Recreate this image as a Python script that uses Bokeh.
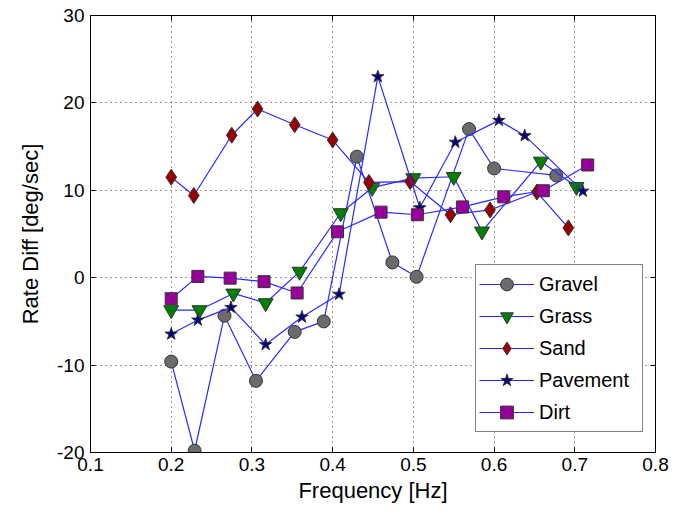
from bokeh.plotting import figure
from bokeh.models import Range1d, Legend, LegendItem, LinearAxis, FixedTicker, CustomJSTickFormatter
from bokeh.embed import file_html
from bokeh.resources import INLINE

gravel_x = [0.200, 0.229, 0.266, 0.305, 0.353, 0.389, 0.430, 0.474, 0.504, 0.569, 0.600, 0.677]
gravel_y = [-9.6, -19.8, -4.35, -11.8, -6.2, -5.0, 13.85, 1.75, 0.1, 17.0, 12.5, 11.7]

grass_x = [0.200, 0.235, 0.277, 0.317, 0.359, 0.410, 0.449, 0.500, 0.550, 0.585, 0.658, 0.702]
grass_y = [-3.7, -3.7, -1.8, -2.9, 0.7, 7.4, 10.3, 11.4, 11.55, 5.3, 13.3, 10.4]

sand_x = [0.200, 0.228, 0.275, 0.307, 0.353, 0.400, 0.445, 0.496, 0.546, 0.595, 0.653, 0.692]
sand_y = [11.5, 9.4, 16.3, 19.3, 17.5, 15.75, 10.9, 11.0, 7.2, 7.75, 9.8, 5.7]

pave_x = [0.200, 0.233, 0.274, 0.317, 0.362, 0.408, 0.456, 0.508, 0.552, 0.606, 0.638, 0.710]
pave_y = [-6.45, -4.85, -3.4, -7.65, -4.5, -1.9, 23.0, 8.0, 15.5, 18.0, 16.25, 9.9]

dirt_x = [0.200, 0.233, 0.273, 0.315, 0.356, 0.406, 0.460, 0.505, 0.561, 0.612, 0.661, 0.716]
dirt_y = [-2.4, 0.15, -0.05, -0.45, -1.75, 5.25, 7.5, 7.2, 8.1, 9.25, 9.95, 12.9]

x_ticks = [0.1, 0.2, 0.3, 0.4, 0.5, 0.6, 0.7, 0.8]
y_ticks = [-20, -10, 0, 10, 20, 30]
y_tick_labels = ["-20", "-10", "0", "10", "20", "30"]

FONT = "Liberation Sans"

p = figure(width=679, height=510, output_backend="svg", toolbar_location=None,
           x_range=Range1d(0.1, 0.8), y_range=Range1d(-20, 30),
           min_border_left=90, min_border_right=24, min_border_top=15, min_border_bottom=58,
           x_axis_label="Frequency [Hz]", y_axis_label="Rate Diff [deg/sec]")
p.background_fill_color = "white"
p.border_fill_color = "white"
p.outline_line_color = "black"
p.outline_line_width = 1

for ax, ticks in ((p.xaxis[0], x_ticks), (p.yaxis[0], y_ticks)):
    ax.ticker = FixedTicker(ticks=ticks)
    ax.major_tick_in = 5
    ax.major_tick_out = 0
    ax.minor_tick_line_color = None
    ax.axis_line_color = "black"
    ax.major_tick_line_color = "black"
    ax.major_label_text_font = FONT
    ax.major_label_text_font_size = "19px"
    ax.major_label_text_color = "black"
    ax.axis_label_text_font = FONT
    ax.axis_label_text_font_size = "22px"
    ax.axis_label_text_font_style = "normal"
    ax.axis_label_text_color = "black"
p.yaxis[0].major_label_overrides = {t: s for t, s in zip(y_ticks, y_tick_labels)}
p.xaxis.major_label_standoff = 5
p.yaxis.major_label_standoff = 6
p.xaxis.axis_label_standoff = 4
p.yaxis.axis_label_standoff = 11

blank = CustomJSTickFormatter(code="return '';")
top = LinearAxis(ticker=FixedTicker(ticks=x_ticks), formatter=blank,
                 major_tick_in=5, major_tick_out=0, minor_tick_line_color=None)
right = LinearAxis(ticker=FixedTicker(ticks=y_ticks), formatter=blank,
                   major_tick_in=5, major_tick_out=0, minor_tick_line_color=None)
p.add_layout(top, "above")
p.add_layout(right, "right")

p.xgrid.ticker = FixedTicker(ticks=x_ticks)
p.ygrid.ticker = FixedTicker(ticks=y_ticks)
for g in (p.xgrid[0], p.ygrid[0]):
    g.grid_line_color = "black"
    g.grid_line_dash = "1 4"
    g.grid_line_width = 1
    g.grid_line_alpha = 0.8

series = [
    ("Gravel", gravel_x, gravel_y, "circle", "#6b6b6b", 13),
    ("Grass", grass_x, grass_y, "inverted_triangle", "#008000", 15),
    ("Sand", sand_x, sand_y, "diamond", "#990000", 16),
    ("Pavement", pave_x, pave_y, "star", "#000080", 13),
    ("Dirt", dirt_x, dirt_y, "square", "#990099", 12),
]

items = []
for name, xs, ys, marker, color, size in series:
    ln = p.line(xs, ys, line_color="#2a2aff", line_width=1.2)
    sc = p.scatter(xs, ys, marker=marker, size=size, fill_color=color,
                   line_color="#333333", line_width=1)
    items.append(LegendItem(label=name, renderers=[ln, sc]))

legend = Legend(items=items, location=(385, 20), orientation="vertical")
legend.label_text_font = FONT
legend.label_text_font_size = "20px"
legend.label_text_color = "black"
legend.glyph_width = 55
legend.glyph_height = 32
legend.label_height = 20
legend.label_width = 100
legend.spacing = 0
legend.padding = 3
legend.margin = 0
legend.label_standoff = 5
legend.border_line_color = "black"
legend.border_line_width = 1
legend.background_fill_color = "white"
legend.background_fill_alpha = 1
p.add_layout(legend, "center")

open("out.html", "w").write(file_html(p, INLINE))
